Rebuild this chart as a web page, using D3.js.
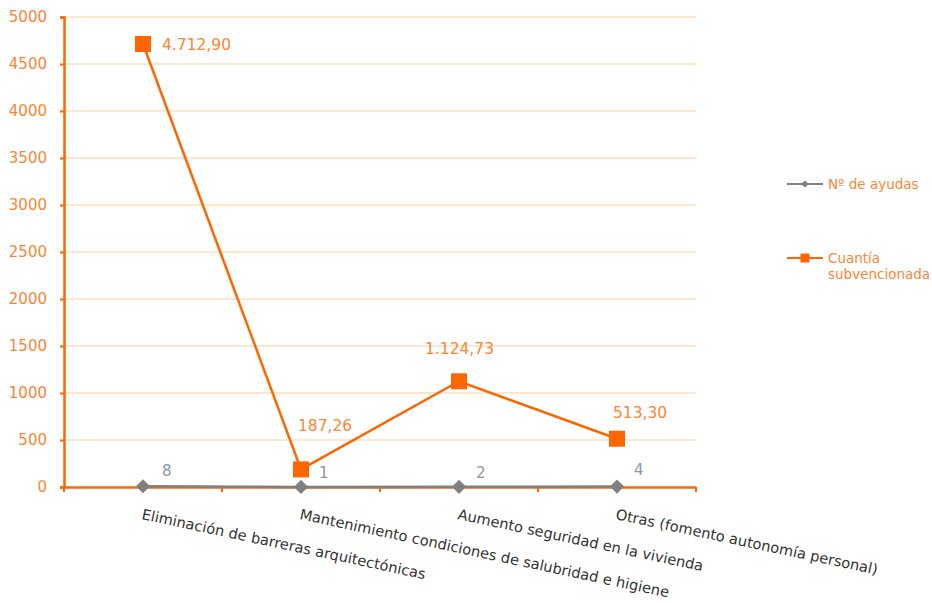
<!DOCTYPE html>
<html lang="es">
<head>
<meta charset="UTF-8">
<title>Ayudas</title>
<style>
  body { margin: 0; background: #fff; }
  text { font-family: "DejaVu Sans", Verdana, sans-serif; }
</style>
</head>
<body>
<div id="wrapper"></div>
<script src="https://d3js.org/d3.v7.min.js"></script>
<script>
// datos
const categories = [
  "Eliminación de barreras arquitectónicas",
  "Mantenimiento condiciones de salubridad e higiene",
  "Aumento seguridad en la vivienda",
  "Otras (fomento autonomía personal)"
];
const numAyudas = [8, 1, 2, 4];
const cuantia = [4712.90, 187.26, 1124.73, 513.30];
const cuantiaLabels = ["4.712,90", "187,26", "1.124,73", "513,30"];
const yTicks = [0, 500, 1000, 1500, 2000, 2500, 3000, 3500, 4000, 4500, 5000];
const seriesNames = ["Nº de ayudas", "Cuantía subvencionada"];

const orange = "#ff6600";
const orangeText = "#ff8533";
const grey = "#808080";

const dimensions = {
  width: 932,
  height: 603,
  margin: { top: 17, right: 236, bottom: 116, left: 64 }
};
dimensions.boundedWidth = dimensions.width - dimensions.margin.left - dimensions.margin.right;
dimensions.boundedHeight = dimensions.height - dimensions.margin.top - dimensions.margin.bottom;

const svg = d3.select("#wrapper").append("svg")
  .attr("width", dimensions.width)
  .attr("height", dimensions.height);

const bounds = svg.append("g")
  .attr("transform", `translate(${dimensions.margin.left},${dimensions.margin.top})`);

const xScale = d3.scaleBand()
  .domain(categories)
  .range([0, dimensions.boundedWidth]);
const xCenter = (c) => xScale(c) + xScale.bandwidth() / 2;

const yScale = d3.scaleLinear()
  .domain([0, 5000])
  .range([dimensions.boundedHeight, 0]);

// gridlines
bounds.append("g")
  .selectAll("line")
  .data(yTicks.filter(d => d > 0))
  .join("line")
  .attr("x1", 0)
  .attr("x2", dimensions.boundedWidth)
  .attr("y1", d => yScale(d))
  .attr("y2", d => yScale(d))
  .attr("stroke", "#ffcf9f")
  .attr("stroke-width", 1);

// eje Y
const yAxis = bounds.append("g")
  .call(d3.axisLeft(yScale).tickValues(yTicks).tickSize(4).tickPadding(13).tickFormat(d3.format("d")));
yAxis.select(".domain").attr("stroke", orange).attr("stroke-width", 2.5);
yAxis.selectAll(".tick line").attr("stroke", orange).attr("stroke-width", 2);
yAxis.selectAll(".tick text")
  .attr("fill", orangeText)
  .style("font-size", "15px")
  .style("font-family", "DejaVu Sans, Verdana, sans-serif");

// eje X
const xAxis = bounds.append("g")
  .attr("transform", `translate(0,${dimensions.boundedHeight})`)
  .call(d3.axisBottom(xScale).tickSize(0).tickFormat(""));
xAxis.select(".domain").attr("stroke", orange).attr("stroke-width", 2.5);
bounds.append("g")
  .selectAll("line")
  .data(d3.range(categories.length + 1))
  .join("line")
  .attr("x1", i => i * xScale.bandwidth())
  .attr("x2", i => i * xScale.bandwidth())
  .attr("y1", dimensions.boundedHeight)
  .attr("y2", dimensions.boundedHeight + 5)
  .attr("stroke", orange)
  .attr("stroke-width", 2);

// etiquetas de categorias rotadas
bounds.append("g")
  .selectAll("text")
  .data(categories)
  .join("text")
  .attr("transform", d => `translate(${xCenter(d) - 2},${dimensions.boundedHeight + 32}) rotate(12)`)
  .attr("fill", "#333")
  .style("font-size", "14.6px")
  .text(d => d);

// serie gris: Nº de ayudas
const greyLine = d3.line()
  .x((d, i) => xCenter(categories[i]))
  .y(d => yScale(d));
bounds.append("path")
  .attr("d", greyLine(numAyudas))
  .attr("fill", "none")
  .attr("stroke", grey)
  .attr("stroke-width", 2.5);
bounds.append("g")
  .selectAll("path")
  .data(numAyudas)
  .join("path")
  .attr("d", d3.symbol(d3.symbolSquare, 100)())
  .attr("transform", (d, i) => `translate(${xCenter(categories[i])},${yScale(d)}) rotate(45)`)
  .attr("fill", grey);

// serie naranja: Cuantía subvencionada
const orangeLine = d3.line()
  .x((d, i) => xCenter(categories[i]))
  .y(d => yScale(d));
bounds.append("path")
  .attr("d", orangeLine(cuantia))
  .attr("fill", "none")
  .attr("stroke", orange)
  .attr("stroke-width", 2.5);
bounds.append("g")
  .selectAll("path")
  .data(cuantia)
  .join("path")
  .attr("d", d3.symbol(d3.symbolSquare, 256)())
  .attr("transform", (d, i) => `translate(${xCenter(categories[i])},${yScale(d)})`)
  .attr("fill", orange);

// etiquetas de datos
const orangeOffsets = [[19, 6], [-3, -38], [-34, -27], [-4, -21]];
bounds.append("g")
  .selectAll("text")
  .data(cuantia)
  .join("text")
  .attr("x", (d, i) => xCenter(categories[i]) + orangeOffsets[i][0])
  .attr("y", (d, i) => yScale(d) + orangeOffsets[i][1])
  .attr("fill", orangeText)
  .style("font-size", "15.5px")
  .text((d, i) => cuantiaLabels[i]);

const greyOffsets = [[19, -10], [18, -9], [17, -9], [17, -12]];
bounds.append("g")
  .selectAll("text")
  .data(numAyudas)
  .join("text")
  .attr("x", (d, i) => xCenter(categories[i]) + greyOffsets[i][0])
  .attr("y", (d, i) => yScale(d) + greyOffsets[i][1])
  .attr("fill", "#8c96a0")
  .style("font-size", "15px")
  .text(d => d);

// leyenda
const legend = svg.append("g").attr("transform", "translate(787,0)");
const lg1 = legend.append("g").attr("transform", "translate(0,184)");
lg1.append("line").attr("x1", 0).attr("x2", 36).attr("stroke", grey).attr("stroke-width", 2);
lg1.append("path")
  .attr("d", d3.symbol(d3.symbolSquare, 26)())
  .attr("transform", "translate(18,0) rotate(45)")
  .attr("fill", grey);
lg1.append("text").attr("x", 41).attr("y", 5)
  .attr("fill", orangeText).style("font-size", "13.5px")
  .text(seriesNames[0]);

const lg2 = legend.append("g").attr("transform", "translate(0,258)");
lg2.append("line").attr("x1", 0).attr("x2", 36).attr("stroke", orange).attr("stroke-width", 2);
lg2.append("path")
  .attr("d", d3.symbol(d3.symbolSquare, 81)())
  .attr("transform", "translate(18,0)")
  .attr("fill", orange);
const lt = lg2.append("text").attr("x", 41).attr("y", 5)
  .attr("fill", orangeText).style("font-size", "13.5px");
lt.append("tspan").attr("x", 41).text("Cuantía");
lt.append("tspan").attr("x", 41).attr("dy", 16).text("subvencionada");
</script>
</body>
</html>
